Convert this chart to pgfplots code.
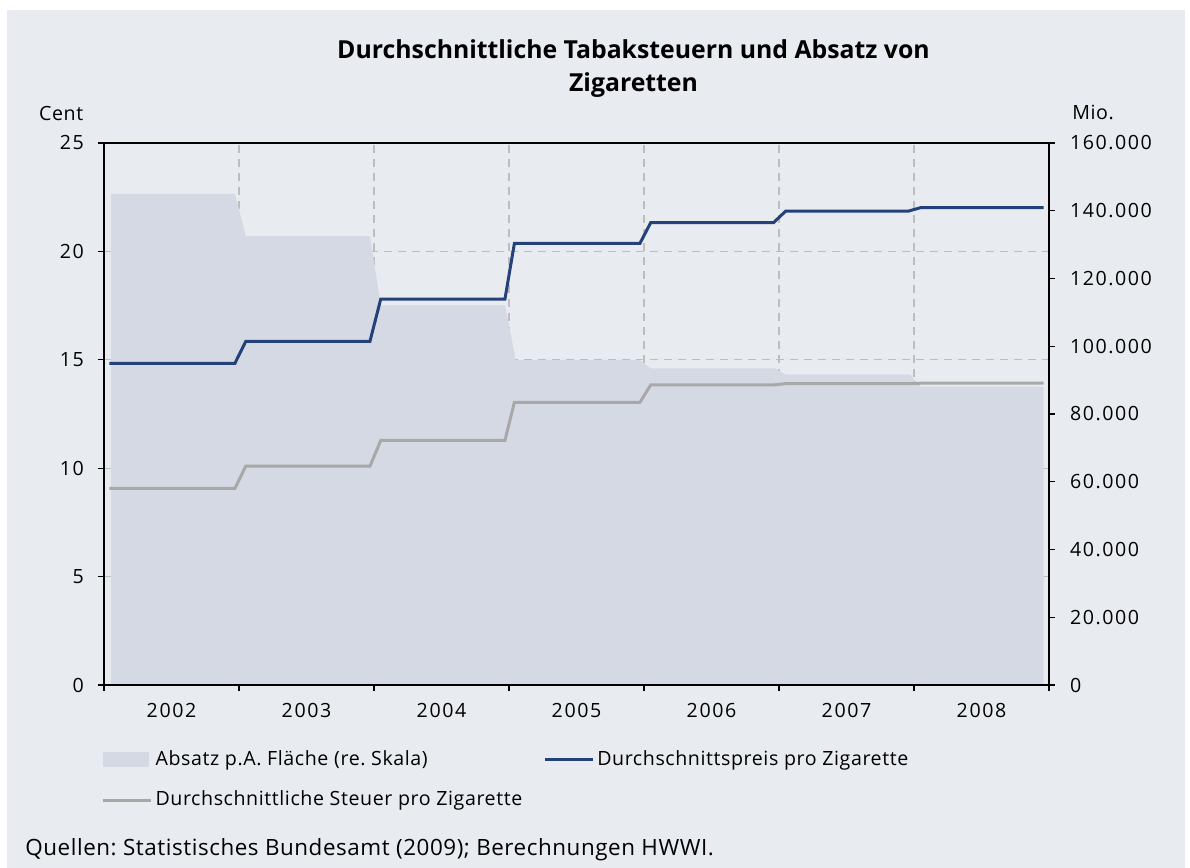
\documentclass[border=0pt]{standalone}
\usepackage{fontspec}
\setmainfont{Open Sans}
\newfontfamily\tickfont[LetterSpace=8]{Open Sans}
\newfontfamily\legfont[LetterSpace=3]{Open Sans}
\newfontfamily\notefont[LetterSpace=2.5]{Open Sans}
\usepackage{pgfplots}
\pgfplotsset{compat=1.18}
\frenchspacing

\definecolor{bgcol}{HTML}{E8EBF0}
\definecolor{areacol}{HTML}{D5D9E3}
\definecolor{preiscol}{HTML}{25417A}
\definecolor{steuercol}{HTML}{A8A8A8}
\definecolor{gridcol}{HTML}{BDBDBD}

\pgfplotsset{
  base/.style={
    at={(52pt,91.5pt)}, anchor=south west,
    width=472.5pt, height=271pt, scale only axis,
    xmin=0, xmax=7, enlargelimits=false,
    tick label style={font=\tickfont\fontsize{9.8}{11}\selectfont},
    /pgf/number format/assume math mode=true,
    tick align=outside, major tick length=3pt,
    axis line style={line width=0.7pt},
    tick style={line width=0.6pt, black},
  },
}

\begin{document}
\begin{tikzpicture}
\fill[white] (0,0) rectangle (595pt,434pt);
\fill[bgcol] (3.5pt,0) rectangle (592.5pt,429pt);

% grid layer
\begin{axis}[base,
  ymin=0, ymax=25,
  xtick={1,...,6}, ytick={5,10,15,20},
  xticklabels={}, yticklabels={},
  major tick length=0pt,
  grid=major, grid style={gridcol, line width=0.6pt, dash pattern=on 4pt off 3pt},
  axis line style={draw=none},
]
\end{axis}

% Absatz, rechte Skala
\begin{axis}[base,
  ymin=0, ymax=160000,
  axis y line*=right, axis x line=none,
  ytick={0,20000,...,160000},
  scaled y ticks=false,
  yticklabel style={xshift=4pt, /pgf/number format/.cd, fixed, 1000 sep={.}},
]
\addplot[fill=areacol, draw=none] coordinates {
  (0.05,145000) (0.97,145000) (1.05,132500)
  (1.97,132500) (2.05,112100) (2.97,112100) (3.05,95900)
  (3.97,95900) (4.05,93500) (4.97,93500) (5.05,91600)
  (5.97,91600) (6.05,88100) (6.96,88100)
} \closedcycle;
\end{axis}

% Preise und Steuern, linke Skala
\begin{axis}[base,
  ymin=0, ymax=25,
  ytick={0,5,...,25}, ytick pos=left,
  yticklabel style={xshift=-3.5pt},
  xtick={0,...,7}, xticklabels={}, xtick pos=left,
  extra x ticks={0.5,1.5,...,6.5},
  extra x tick labels={2002,2003,2004,2005,2006,2007,2008},
  extra x tick style={major tick length=0pt, xticklabel style={yshift=-5.5pt}},
  legend columns=2,
  legend cell align=left,
  legend style={at={(-0.003,-0.114)}, anchor=north west, draw=none, fill=none,
    font=\legfont\fontsize{9.8}{11}\selectfont, row sep=8.5pt, inner sep=0pt,
    nodes={inner sep=1.5pt},
    /tikz/every even column/.append style={column sep=9pt}},
  legend image code/.code={\draw[#1] (0pt,0pt) -- (24pt,0pt);},
]
\addlegendimage{legend image code/.code={\fill[areacol] (0pt,-3.5pt) rectangle (22.5pt,3.5pt);}}
\addlegendentry{Absatz p.A. Fläche (re. Skala)}
\addplot[preiscol, line width=1.5pt] coordinates {
  (0.04,14.84) (0.97,14.84) (1.05,15.85)
  (1.97,15.85) (2.05,17.80) (2.97,17.80) (3.04,20.37)
  (3.97,20.37) (4.05,21.33) (4.96,21.33) (5.05,21.86)
  (5.96,21.86) (6.05,22.02) (6.96,22.02)
};
\addlegendentry{Durchschnittspreis pro Zigarette}
\addplot[steuercol, line width=1.5pt] coordinates {
  (0.04,9.07) (0.97,9.07) (1.05,10.09)
  (1.97,10.09) (2.05,11.28) (2.97,11.28) (3.04,13.04)
  (3.97,13.04) (4.05,13.84) (4.96,13.84) (5.05,13.90)
  (5.96,13.90) (6.05,13.92) (6.96,13.92)
};
\addlegendentry{Durchschnittliche Steuer pro Zigarette}
\end{axis}

\node[anchor=base, font=\bfseries\fontsize{12.4}{14}\selectfont] at (316.75pt,404.8pt) {Durchschnittliche Tabaksteuern und Absatz von};
\node[anchor=base, font=\bfseries\fontsize{12.4}{14}\selectfont] at (316.75pt,388pt) {Zigaretten};
\node[anchor=base east, font=\legfont\fontsize{9.8}{11}\selectfont, inner sep=0pt] at (41.8pt,373.6pt) {Cent};
\node[anchor=base west, font=\legfont\fontsize{9.8}{11}\selectfont, inner sep=0pt] at (536pt,374pt) {Mio.};
\node[anchor=base west, font=\notefont\fontsize{11.2}{13}\selectfont, inner sep=0pt] at (12.5pt,6pt) {Quellen: Statistisches Bundesamt (2009); Berechnungen HWWI.};
\end{tikzpicture}
\end{document}
